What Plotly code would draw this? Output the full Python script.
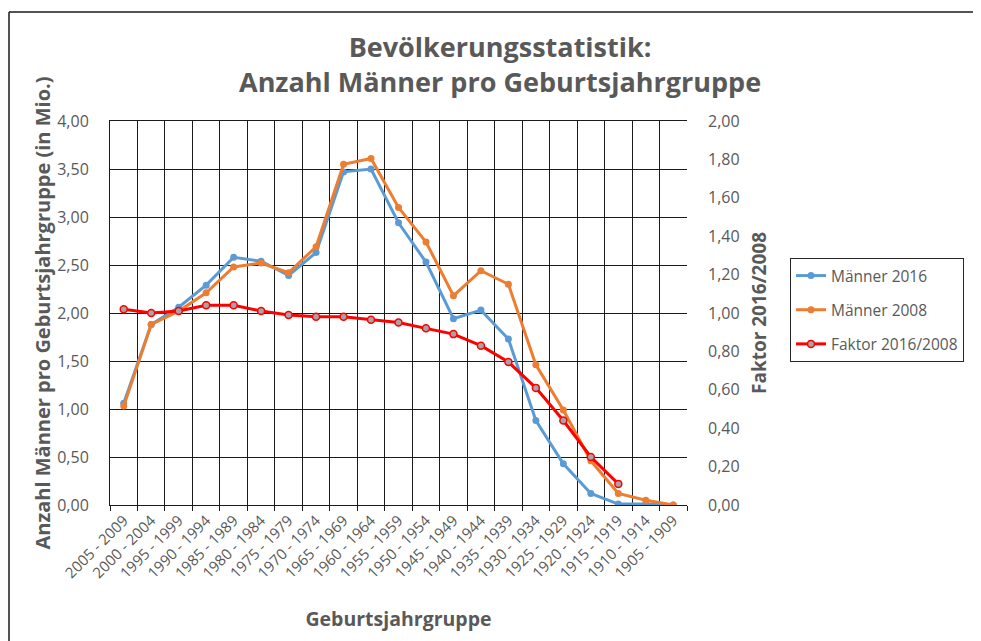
import plotly.graph_objects as go

categories = ["2005 - 2009", "2000 - 2004", "1995 - 1999", "1990 - 1994", "1985 - 1989",
              "1980 - 1984", "1975 - 1979", "1970 - 1974", "1965 - 1969", "1960 - 1964",
              "1955 - 1959", "1950 - 1954", "1945 - 1949", "1940 - 1944", "1935 - 1939",
              "1930 - 1934", "1925 - 1929", "1920 - 1924", "1915 - 1919", "1910 - 1914",
              "1905 - 1909"]
maenner_2016 = [1.06, 1.88, 2.06, 2.29, 2.58, 2.54, 2.39, 2.63, 3.47, 3.50, 2.94,
                2.53, 1.94, 2.03, 1.73, 0.88, 0.43, 0.12, 0.01, 0.01, 0.00]
maenner_2008 = [1.03, 1.88, 2.02, 2.21, 2.48, 2.52, 2.42, 2.69, 3.55, 3.61, 3.10,
                2.74, 2.18, 2.44, 2.30, 1.46, 0.99, 0.46, 0.12, 0.05, 0.00]
faktor = [1.02, 1.00, 1.01, 1.04, 1.04, 1.01, 0.99, 0.98, 0.98, 0.965, 0.95,
          0.92, 0.89, 0.83, 0.745, 0.61, 0.44, 0.25, 0.11, None, None]

left_ticks = [i * 0.5 for i in range(9)]
right_ticks = [i * 0.2 for i in range(11)]

FONT = "Open Sans"
GREY = "#595959"
GRID = "#1a1a1a"

fig = go.Figure()
fig.add_trace(go.Scatter(x=categories, y=maenner_2016, name="Männer 2016", mode="lines+markers",
                         legendgroup="a",
                         line=dict(color="#5B9BD5", width=3), marker=dict(size=7, color="#5B9BD5")))
fig.add_trace(go.Scatter(x=categories, y=maenner_2008, name="Männer 2008", mode="lines+markers",
                         legendgroup="b",
                         line=dict(color="#ED7D31", width=3), marker=dict(size=7, color="#ED7D31")))
fig.add_trace(go.Scatter(x=categories, y=faktor, name="Faktor 2016/2008", mode="lines+markers",
                         legendgroup="c", yaxis="y2", line=dict(color="#FF0000", width=3),
                         marker=dict(size=7, color="#A5A5A5", line=dict(color="#FF0000", width=1.5))))

fig.update_layout(
    width=973, height=633,
    margin=dict(l=102, r=294, t=113, b=136),
    paper_bgcolor="white", plot_bgcolor="white",
    separators=",.",
    font=dict(family=FONT, color=GREY, size=15),
    xaxis=dict(type="category", tickson="boundaries", showgrid=True, gridcolor=GRID, gridwidth=1,
               ticks="outside", ticklen=5, tickcolor=GRID, tickangle=-45,
               showline=True, linecolor=GRID, linewidth=1, mirror=True,
               tickfont=dict(size=15, color=GREY), automargin=False,
               title=dict(text="<b>Geburtsjahrgruppe</b>", font=dict(size=19.5, color=GREY), standoff=31),
               range=[-0.5, 20.5]),
    yaxis=dict(range=[0, 4], tickvals=left_ticks, tickformat=".2f", showgrid=True,
               gridcolor=GRID, gridwidth=1, zeroline=False, automargin=False,
               showline=True, linecolor=GRID, linewidth=1,
               tickfont=dict(size=16, color=GREY), ticks="", ticklabelstandoff=17,
               title=dict(text="<b>Anzahl Männer pro Geburtsjahrgruppe (in Mio.)</b>",
                          font=dict(size=20, color=GREY), standoff=1)),
    yaxis2=dict(range=[0, 2], tickvals=right_ticks, tickformat=".2f", overlaying="y", side="right",
                showgrid=False, zeroline=False, showline=False, automargin=False,
                tickfont=dict(size=16, color=GREY), ticklabelstandoff=20,
                title=dict(text="<b>Faktor 2016/2008</b>", font=dict(size=19, color=GREY), standoff=14)),
    legend=dict(x=(790 - 110) / 577, y=(505 - 258) / 384, xanchor="left", yanchor="top",
                bordercolor="#262626", borderwidth=1,
                font=dict(size=15.5, color=GREY), bgcolor="white", tracegroupgap=11, itemwidth=30),
    showlegend=True,
)

fig.add_annotation(text="<b>Bevölkerungsstatistik:<br>Anzahl Männer pro Geburtsjahrgruppe</b>",
                   xref="paper", yref="paper", x=(500 - 110) / 577, y=(505 - 63.5) / 384,
                   xanchor="center", yanchor="middle", showarrow=False,
                   font=dict(family=FONT, size=27, color=GREY))

# outer chart border (top and left edges visible in the reference)
bx0 = (9 - 110) / 577
by1 = (505 - 12) / 384
fig.add_shape(type="line", xref="paper", yref="paper", x0=bx0, x1=(1010 - 110) / 577, y0=by1, y1=by1,
              line=dict(color=GRID, width=1.5), layer="below")
fig.add_shape(type="line", xref="paper", yref="paper", x0=bx0, x1=bx0, y0=by1, y1=(505 - 680) / 384,
              line=dict(color=GRID, width=1.5), layer="below")

fig.write_html("out.html")
